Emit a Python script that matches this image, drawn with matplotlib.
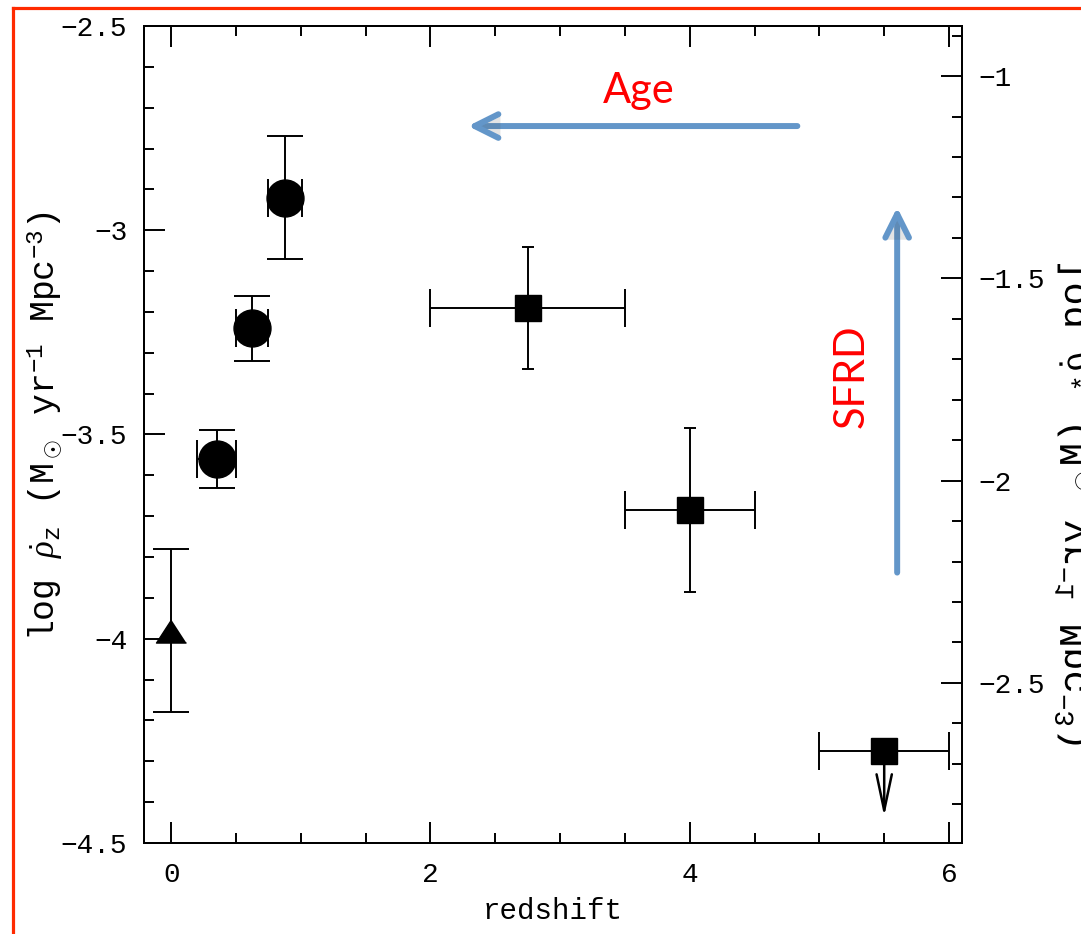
import numpy as np
import matplotlib
matplotlib.use("Agg")
import matplotlib.pyplot as plt
from matplotlib.ticker import MultipleLocator, FuncFormatter
from matplotlib.textpath import TextPath
from matplotlib.patches import PathPatch
from matplotlib.font_manager import FontProperties
from matplotlib.transforms import Affine2D
from matplotlib.lines import Line2D
import matplotlib.patheffects as pe

plt.rcParams['font.family'] = ['Liberation Mono', 'DejaVu Sans']
plt.rcParams['mathtext.fontset'] = 'custom'
plt.rcParams['mathtext.rm'] = 'Liberation Mono'
plt.rcParams['mathtext.it'] = 'Liberation Serif:italic'
plt.rcParams['mathtext.bf'] = 'Liberation Mono:bold'

# circles: low-z SFRD estimates
circ_z = [0.35, 0.625, 0.88]
circ_zerr = [0.15, 0.125, 0.13]
circ_val = [-3.56, -3.24, -2.92]
circ_err = [0.07, 0.08, 0.15]

# triangle: local value
tri_z = [0.0]
tri_val = [-3.98]
tri_err = [0.2]

# squares: high-z bins
sq_z = [2.75, 4.0, 5.5]
sq_zerr = [0.75, 0.5, 0.5]
sq_val = [-3.19, -3.685, -4.275]
sq_err = [0.15, 0.2, 0.0]
sq_limit = [False, False, True]
limit_len = 0.16

xlim = (-0.21, 6.1)
ylim_left = (-4.5, -2.5)
ylim_right = (-2.896, -0.876)

ylabel_left = r'log $\dot{\rho}_{\rm z}$ (M$_\odot$ yr$^{-1}$ Mpc$^{-3}$)'
ylabel_right = r'log $\dot{\rho}_*$ (M$_\odot$ yr$^{-1}$ Mpc$^{-3}$)'

blue = '#6396c9'
lw = 1.4
label_size = 25

fig = plt.figure(figsize=(10.81, 9.34), dpi=100)
fig.patch.set_facecolor('white')
ax = fig.add_axes([0.1332, 0.0974, 0.7567, 0.8748])
ax.set_xlim(*xlim)
ax.set_ylim(*ylim_left)

fmt = FuncFormatter(lambda v, p: ('%g' % v).replace('-', '\u2212'))

ax.xaxis.set_major_locator(MultipleLocator(2))
ax.xaxis.set_minor_locator(MultipleLocator(0.5))
ax.yaxis.set_major_locator(MultipleLocator(0.5))
ax.yaxis.set_minor_locator(MultipleLocator(0.1))
ax.yaxis.set_major_formatter(fmt)
ax.tick_params(which='both', direction='in', top=True, right=False, width=lw,
               labelsize=20, pad=12)
ax.tick_params(which='major', length=15)
ax.tick_params(which='minor', length=7.5)
ax.tick_params(axis='x', pad=14)
for s in ax.spines.values():
    s.set_linewidth(lw)

ax2 = ax.twinx()
ax2.set_ylim(*ylim_right)
ax2.yaxis.set_major_locator(MultipleLocator(0.5))
ax2.yaxis.set_minor_locator(MultipleLocator(0.1))
ax2.yaxis.set_major_formatter(fmt)
ax2.tick_params(which='both', direction='in', right=True, left=False, width=lw,
                labelsize=20, pad=12)
ax2.tick_params(which='major', length=15)
ax2.tick_params(which='minor', length=7.5)
for s in ax2.spines.values():
    s.set_linewidth(lw)

ax.set_xlabel('redshift', fontsize=21, labelpad=6)
ax.set_ylabel(ylabel_left, fontsize=label_size)
ax.yaxis.set_label_coords(-0.097, 0.51)

# data points
ax.errorbar(circ_z, circ_val, yerr=circ_err, fmt='o', ms=26.6, color='black',
            elinewidth=lw, capsize=13.3, capthick=lw, zorder=3)
ax.errorbar(circ_z, circ_val, xerr=circ_zerr, fmt='none', ecolor='black',
            elinewidth=lw, capsize=13.7, capthick=lw, zorder=2)

tri = [(0, 0.77), (-1, -0.77), (1, -0.77)]
ax.errorbar(tri_z, tri_val, yerr=tri_err, fmt='none', ecolor='black',
            elinewidth=lw, capsize=13.3, capthick=lw, zorder=2)
ax.plot(tri_z, tri_val, linestyle='none', marker=tri, ms=21.6, color='black', zorder=3)

ax.errorbar(sq_z, sq_val, yerr=sq_err, fmt='none', ecolor='black',
            elinewidth=lw, capsize=4.3, capthick=lw, zorder=2)
ax.errorbar(sq_z, sq_val, xerr=sq_zerr, fmt='none', ecolor='black',
            elinewidth=lw, capsize=14, capthick=lw, zorder=2)
ax.plot(sq_z, sq_val, linestyle='none', marker='s', ms=19.4, color='black', zorder=3)

for z, v, lim in zip(sq_z, sq_val, sq_limit):
    if lim:
        ax.annotate('', xy=(z, v - limit_len), xytext=(z, v),
                    arrowprops=dict(arrowstyle='->,head_length=2.6,head_width=0.55',
                                    mutation_scale=10, lw=1.8, color='black',
                                    shrinkA=0, shrinkB=0), zorder=2)

# direction arrows
shadow = [pe.SimplePatchShadow(offset=(1.5, -1.5), alpha=0.15), pe.Normal()]
arrow_kw = dict(arrowstyle='->,head_length=1.7,head_width=0.85', mutation_scale=10,
                lw=4.3, color=blue, shrinkA=0, shrinkB=0, capstyle='round',
                joinstyle='round', path_effects=shadow)
ax.annotate('', xy=(2.29, -2.745), xytext=(4.83, -2.745), arrowprops=arrow_kw)
ax.annotate('', xy=(5.6, -2.944), xytext=(5.6, -3.838), arrowprops=arrow_kw)
ax.text(3.61, -2.689, 'Age', color='red', fontsize=30, family='Lato',
        ha='center', va='baseline')
ax.text(5.25, -3.358, 'SFRD', color='red', fontsize=30, family='Lato',
        rotation=90, ha='center', va='center')

# right-hand label, mirrored and running off the edge
tp = TextPath((0, 0), ylabel_right, size=28,
              prop=FontProperties(family='Liberation Mono'))
ext = tp.get_extents()
k = fig.dpi / 72.0
x0 = 1055 + ext.y1 * k
y0 = (934 - 264) + ext.x0 * k
mirror = Affine2D(np.array([[0, -k, x0], [-k, 0, y0], [0, 0, 1]]))
fig.add_artist(PathPatch(tp, transform=mirror, facecolor='black', edgecolor='none'))

# red frame
red = '#ff2a00'
fig.add_artist(Line2D([12.5 / 1081, 12.5 / 1081], [0, (934 - 7.5) / 934], color=red, lw=2.3))
fig.add_artist(Line2D([12.5 / 1081, 1.0], [(934 - 7.5) / 934, (934 - 7.5) / 934], color=red, lw=2.3))

fig.savefig('out.png', dpi=100, facecolor='white')
